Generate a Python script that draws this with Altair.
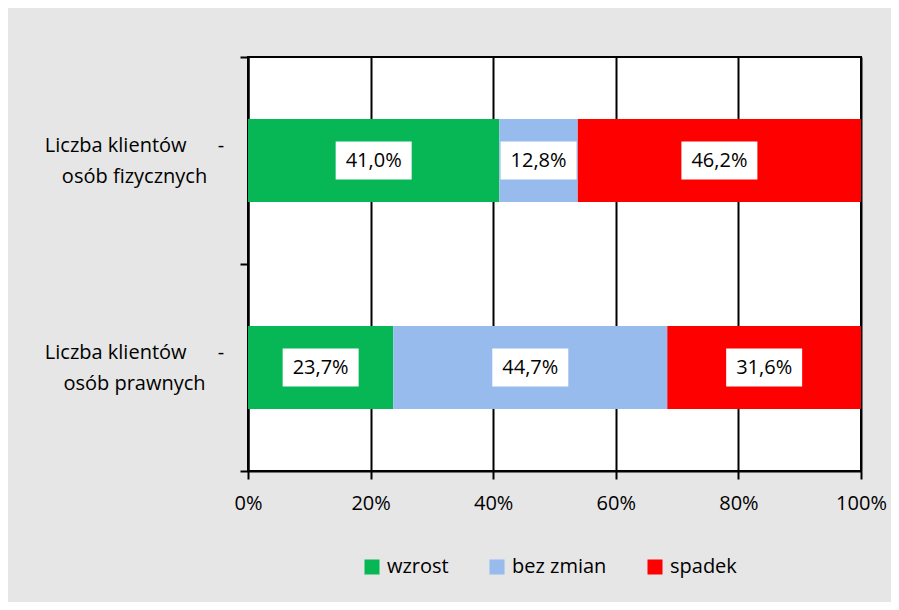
import altair as alt
import pandas as pd

NB = "\u00a0"
categories = [
    "Liczba klientów" + NB * 6 + "-\nosób fizycznych",
    "Liczba klientów" + NB * 6 + "-\nosób prawnych",
]
series = ["wzrost", "bez zmian", "spadek"]
values_fiz = [41.0, 12.8, 46.2]
values_praw = [23.7, 44.7, 31.6]
colors = ["#07b654", "#97bbec", "#fe0000"]
x_ticks = [0, 0.2, 0.4, 0.6, 0.8, 1.0]

rows = []
for cat, vals in zip(categories, [values_fiz, values_praw]):
    for i, (s, v) in enumerate(zip(series, vals)):
        rows.append({
            "cat": cat,
            "series": s,
            "order": i,
            "v": v / 100.0,
            "label": f"{v:.1f}".replace(".", ",") + "%",
        })
df = pd.DataFrame(rows)

FONT = "Open Sans"
FS = 20

y_enc = alt.Y(
    "cat:N",
    sort=categories,
    scale=alt.Scale(paddingInner=0, paddingOuter=0),
    axis=alt.Axis(
        title=None,
        labelExpr="split(datum.label, '\\n')",
        labelAlign="center",
        labelBaseline="middle",
        labelPadding=106,
        labelLineHeight=31,
        labelOffset=-15,
        labelFont=FONT,
        labelFontSize=FS,
        labelColor="#000000",
        tickBand="extent",
        tickColor="#000000",
        tickWidth=2,
        tickSize=8,
        domainColor="#000000",
        domainWidth=2,
        grid=False,
    ),
)

base = alt.Chart(df)

bars = base.mark_bar(height={"band": 0.4}).encode(
    x=alt.X(
        "v:Q",
        stack="zero",
        scale=alt.Scale(domain=[0, 1], nice=False),
        axis=alt.Axis(
            title=None,
            values=x_ticks,
            format=".0%",
            labelFlush=False,
            labelFont=FONT,
            labelFontSize=FS,
            labelColor="#000000",
            labelPadding=14,
            tickColor="#000000",
            tickWidth=2,
            tickSize=8,
            domainColor="#000000",
            domainWidth=2,
            grid=True,
            gridColor="#000000",
            gridWidth=2,
            gridOpacity=1,
        ),
    ),
    y=y_enc,
    color=alt.Color(
        "series:N",
        sort=series,
        scale=alt.Scale(domain=series, range=colors),
        legend=alt.Legend(
            title=None,
            orient="none",
            direction="horizontal",
            legendX=114,
            legendY=500,
            symbolType="square",
            symbolSize=225,
            symbolStrokeWidth=0,
            symbolOpacity=1,
            labelFont=FONT,
            labelFontSize=FS,
            labelColor="#000000",
            labelOffset=5,
            columnPadding=38,
        ),
    ),
    order=alt.Order("order:Q"),
)

stacked = base.transform_stack(
    stack="v", groupby=["cat"], sort=[alt.SortField("order")], as_=["v0", "v1"]
).transform_calculate(mid="(datum.v0 + datum.v1) / 2")

boxes = stacked.mark_point(
    shape="M-1,-0.5H1V0.5H-1Z",
    filled=True,
    fill="#ffffff",
    opacity=1,
    strokeWidth=0,
    size=5776,
).encode(
    x=alt.X("mid:Q"),
    y=alt.Y("cat:N", sort=categories),
)

texts = stacked.mark_text(
    font=FONT, fontSize=FS, color="#000000", align="center", baseline="middle"
).encode(
    x=alt.X("mid:Q"),
    y=alt.Y("cat:N", sort=categories),
    text="label:N",
)

chart = (
    alt.layer(bars, boxes, texts)
    .properties(
        width=613,
        height=414,
        autosize=alt.AutoSizeParams(type="none"),
        padding={"left": 240, "top": 49, "right": 30, "bottom": 131},
        background="#e6e6e6",
    )
    .configure_view(fill="#ffffff", stroke="#000000", strokeWidth=2)
)

chart.save("out.html", embed_options={"renderer": "svg", "actions": False})
